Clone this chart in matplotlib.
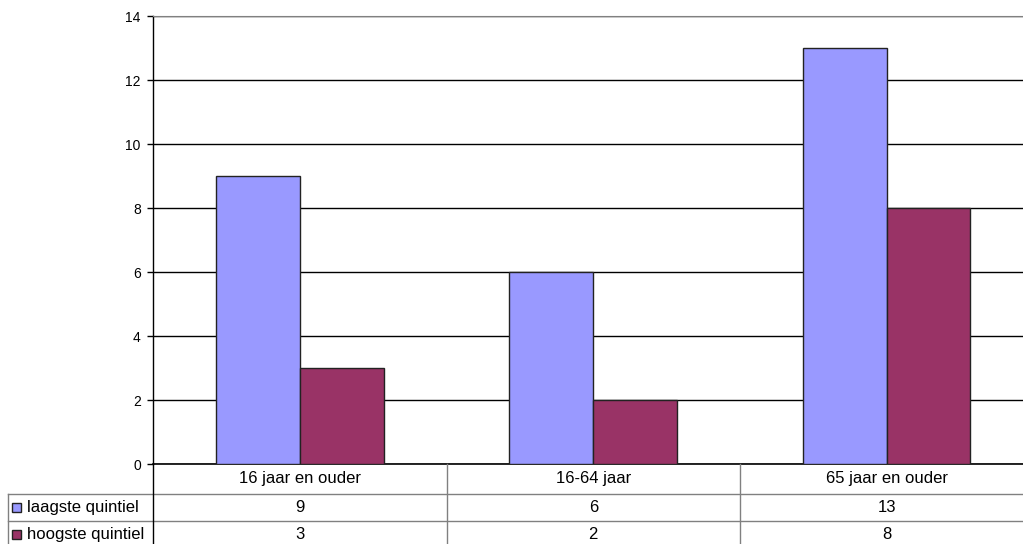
import matplotlib
matplotlib.use("Agg")
import matplotlib.pyplot as plt
from matplotlib.lines import Line2D
from matplotlib.patches import Rectangle
import numpy as np

categories = ["16 jaar en ouder", "16-64 jaar", "65 jaar en ouder"]
series_names = ["laagste quintiel", "hoogste quintiel"]
laagste = [9, 6, 13]
hoogste = [3, 2, 8]
yticks = [0, 2, 4, 6, 8, 10, 12, 14]
colors = ["#9999FF", "#993366"]

plt.rcParams['font.family'] = ['Liberation Sans', 'DejaVu Sans']

W, H = 1023, 544
fig = plt.figure(figsize=(W / 100, H / 100), dpi=100)

def fx(px):
    return px / W

def fy(py):
    return 1 - py / H

ax_left, ax_right = 153.3, 153.3 + 3 * 293.3
ax_top, ax_bot = 16.3, 464.3
ax = fig.add_axes([fx(ax_left), fy(ax_bot), fx(ax_right - ax_left), (ax_bot - ax_top) / H])

x = np.arange(len(categories))
bw = 0.286
ax.bar(x - bw / 2, laagste, bw, color=colors[0], edgecolor="#222222", linewidth=1, zorder=3)
ax.bar(x + bw / 2, hoogste, bw, color=colors[1], edgecolor="#222222", linewidth=1, zorder=3)

ax.set_xlim(-0.5, len(categories) - 0.5)
ax.set_ylim(0, 14)
ax.set_yticks(yticks)
ax.set_yticklabels([str(v) for v in yticks], fontsize=10)
ax.set_xticks([])
ax.tick_params(axis='y', length=4, width=1, color="black", pad=5)
ax.yaxis.grid(True, color="black", linewidth=1, zorder=0)
ax.set_axisbelow(True)
for s in ["right"]:
    ax.spines[s].set_visible(False)
ax.spines["top"].set_color("#808080")
ax.spines["left"].set_color("black")
ax.spines["bottom"].set_color("black")
ax.spines["left"].set_linewidth(1)
ax.spines["bottom"].set_linewidth(1.2)

# Data table
row1, row2, row_end = 493.5, 520.7, 548
leg_left = 8
col_edges = [ax_left + i * 293.3 for i in range(len(categories) + 1)]
gray = "#808080"

def hline(y, x0, x1, c=gray, lw=1):
    fig.add_artist(Line2D([fx(x0), fx(x1)], [fy(y), fy(y)], color=c, lw=lw, transform=fig.transFigure))

def vline(xp, y0, y1, c=gray, lw=1):
    fig.add_artist(Line2D([fx(xp), fx(xp)], [fy(y0), fy(y1)], color=c, lw=lw, transform=fig.transFigure))

hline(row1, leg_left, W)
hline(row2, leg_left, W)
vline(leg_left, row1, row_end)
vline(ax_left, ax_bot, row_end, c="black")
for ce in col_edges[1:-1]:
    vline(ce, ax_bot, row_end)

fs = 12
for i, cat in enumerate(categories):
    cx = (col_edges[i] + col_edges[i + 1]) / 2
    fig.text(fx(cx), fy((ax_bot + row1) / 2), cat, ha="center", va="center", fontsize=fs)
    fig.text(fx(cx), fy((row1 + row2) / 2), str(laagste[i]), ha="center", va="center", fontsize=fs)
    fig.text(fx(cx), fy((row2 + row_end) / 2), str(hoogste[i]), ha="center", va="center", fontsize=fs)

for j, (name, c) in enumerate(zip(series_names, colors)):
    yc = (row1 + row2) / 2 if j == 0 else (row2 + row_end) / 2
    fig.add_artist(Rectangle((fx(12), fy(yc + 4.5)), fx(9), 9 / H, facecolor=c,
                             edgecolor="#222222", linewidth=1, transform=fig.transFigure))
    fig.text(fx(27), fy(yc), name, ha="left", va="center", fontsize=fs)

fig.savefig("out.png", dpi=100)
